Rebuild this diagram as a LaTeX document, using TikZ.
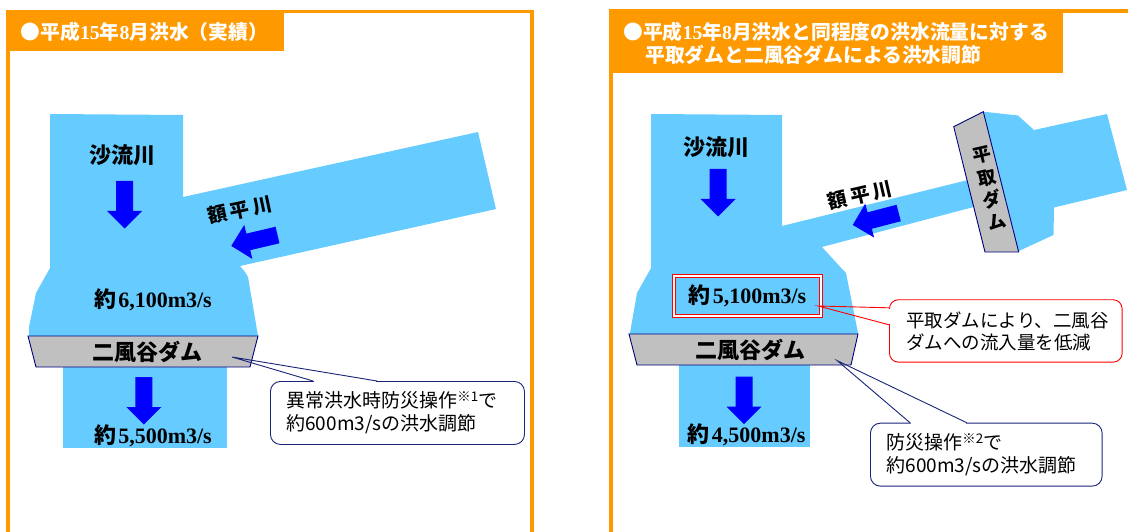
\documentclass[tikz,border=0pt]{standalone}
\usepackage{fontspec}
\setmainfont{Liberation Serif}
\newfontfamily\jp{Noto Sans CJK JP}
\usetikzlibrary{calc}
\definecolor{org}{RGB}{255,153,0}
\definecolor{riv}{RGB}{102,204,255}
\definecolor{arr}{RGB}{0,0,255}
\definecolor{damg}{RGB}{192,192,192}
\definecolor{dnavy}{RGB}{0,0,128}
\definecolor{cnavy}{RGB}{25,35,120}
\newcommand\flowtxt[1]{{\jp 約}\kern2pt#1m3/s}
\newcommand\blockarr[3]{\fill[arrowfill,shift={(#1,#2)},rotate=#3] (0,-8.5) -- (30,-8.5) -- (30,-17.5) -- (47.5,0) -- (30,17.5) -- (30,8.5) -- (0,8.5) -- cycle;}
\begin{document}
\begin{tikzpicture}[x=1pt,y=-1pt,
  riverfill/.style={fill=riv},
  arrowfill/.style={fill=arr},
  dam/.style={fill=damg,draw=dnavy,line width=0.9pt,line join=miter},
  frame/.style={draw=org,line width=3.6pt},
  headfill/.style={fill=org},
  headtext/.style={text=white,font=\jp\bfseries\fontsize{19.8}{23.3}\selectfont,inner sep=0pt,anchor=west,align=left},
  riverlabel/.style={font=\jp\bfseries\fontsize{22}{26}\selectfont,inner sep=0pt},
  triblabel/.style={font=\jp\bfseries\fontsize{19.5}{24}\selectfont,inner sep=0pt},
  damlabel/.style={font=\jp\bfseries\fontsize{22}{26}\selectfont,inner sep=0pt},
  flow/.style={font=\bfseries\fontsize{22}{26}\selectfont,inner sep=0pt},
  callout/.style={draw=cnavy,fill=white,rounded corners=10pt,line width=0.9pt,anchor=north west,align=left,inner xsep=16pt,inner ysep=0pt,font=\jp\fontsize{19}{23}\selectfont},
  pointer/.style={draw=cnavy,line width=0.9pt},
  redbox/.style={draw=red,double=white,double distance=1.6pt,line width=1.1pt,inner sep=0pt},
]
\useasboundingbox (0,0) rectangle (1128,532);

% ---------- left panel ----------
\fill[headfill] (6,9.8) rectangle (284,50.6);
\draw[frame] (7.9,540) -- (7.9,11.6) -- (532,11.6) -- (532,540);
\node[headtext] (h1) at (20.5,31.5) {●平成{\rmfamily 15}年{\rmfamily 8}月洪水（実績）};

\fill[riverfill] (50,114) -- (183,115) -- (183,197) -- (478,132) -- (496,209) -- (240,266) -- (245,272) -- (248,277) -- (257,330) -- (258,336) -- (29,336) -- (29,327) -- (36,293) -- (50,268) -- cycle;
\fill[riverfill] (63,366) rectangle (227,448);

\node[riverlabel] (s1) at (122,155) {沙流川};
\blockarr{124.5}{181}{-90}
\node[triblabel,rotate=12] (k1) at (240,210) {額\kern3.5pt平\kern3.5pt川};
\blockarr{277.5}{235}{193.3}
\node[flow] (q1) at (153,300) {\flowtxt{6,100}};

\draw[dam] (28,336) -- (258,336) -- (250,367) -- (36,367) -- cycle;
\node[damlabel] (d1) at (147,352) {二風谷ダム};
\blockarr{143.8}{377}{-90}
\node[flow] (q2) at (153,436) {\flowtxt{5,500}};

\node[callout,minimum width=254pt,minimum height=63pt,text width=222pt] (c1) at (270,381) {異常洪水時防災操作\textsuperscript{※1}で\\約600m3/sの洪水調節};
\coordinate (t1) at (232,357);
\path (c1.north west) ++(43,0) coordinate (c1a) ++(64,0) coordinate (c1b);
\fill[white] ($(c1a)+(0.8,-1.2)$) rectangle ($(c1b)+(-0.8,1.2)$);
\draw[pointer] (c1a) -- (t1) -- (c1b);

% ---------- right panel ----------
\fill[headfill] (609.3,9.3) rectangle (1062.7,73.3);
\draw[frame] (611,540) -- (611,11.3) -- (1140,11.3);
\node[headtext] (h2) at (623,43.3) {●平成{\rmfamily 15}年{\rmfamily 8}月洪水と同程度の洪水流量に対する\\\hspace*{22pt}平取ダムと二風谷ダムによる洪水調節};

\fill[riverfill] (651,114) -- (782,115) -- (782,226) -- (980,177) -- (975,125) -- (983.3,111.7) -- (1018,115.5) -- (1034,130) -- (1107,114) -- (1127,190) -- (1054,207.5) -- (1053.5,235) -- (1018.7,251) -- (1000,246) -- (985,204) -- (822,247) -- (843,270) -- (846,273) -- (858,333) -- (858,334) -- (629,334) -- (630,333) -- (637,293) -- (651,268) -- cycle;
\fill[riverfill] (679,364) rectangle (810,447);

\draw[dam] (953.7,126.7) -- (983.3,111.7) -- (1018.7,252) -- (985,252) -- cycle;
\node[font=\jp\bfseries\fontsize{18.5}{22.8}\selectfont,inner sep=0pt,align=center,rotate=13] (hd) at (989.2,188.4) {平\\取\\ダ\\ム};

\node[riverlabel] (s2) at (716,147) {沙流川};
\blockarr{718}{169}{-90}
\node[triblabel,rotate=13] (k2) at (860,195) {額\kern3.5pt平\kern3.5pt川};
\blockarr{898.7}{213}{194.6}

\node[redbox,minimum width=147pt,minimum height=40pt,font=\bfseries\fontsize{22}{26}\selectfont] (q3) at (747.5,296) {\flowtxt{5,100}};

\draw[dam] (629,334) -- (858,334) -- (851,365) -- (637,365) -- cycle;
\node[damlabel] (d2) at (750,350) {二風谷ダム};
\blockarr{744}{376.7}{-90}
\node[flow] (q4) at (746.7,435) {\flowtxt{4,500}};

\node[callout,draw=red,rounded corners=9pt,minimum width=232.7pt,minimum height=62.4pt,text width=198.7pt,inner xsep=17pt,font=\jp\fontsize{18.5}{22}\selectfont] (c3) at (889,299.3) {平取ダムにより、二風谷\\ダムへの流入量を低減};
\coordinate (t3) at (818.3,306);
\path (c3.north west) ++(0,8.5) coordinate (c3a) ++(0,17) coordinate (c3b);
\fill[white] ($(c3a)+(-1.2,0.8)$) rectangle ($(c3b)+(1.2,-0.8)$);
\draw[pointer,draw=red] (c3a) -- (t3) -- (c3b);

\node[callout,minimum width=231.7pt,minimum height=63pt,text width=199.7pt] (c2) at (870,422.7) {防災操作\textsuperscript{※2}で\\約600m3/sの洪水調節};
\coordinate (t2) at (837.3,360.7);
\path (c2.north west) ++(40,0) coordinate (c2a) ++(56.7,0) coordinate (c2b);
\fill[white] ($(c2a)+(0.8,-1.2)$) rectangle ($(c2b)+(-0.8,1.2)$);
\draw[pointer] (c2a) -- (t2) -- (c2b);
\end{tikzpicture}
\end{document}
